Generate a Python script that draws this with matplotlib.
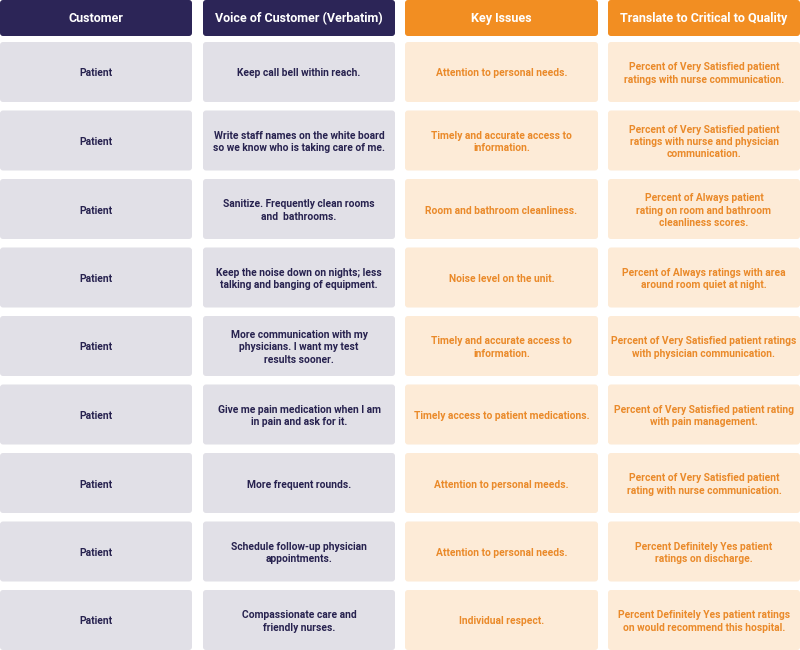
import matplotlib
matplotlib.use("Agg")
import matplotlib.pyplot as plt
from matplotlib.patches import FancyBboxPatch

headers = ["Customer", "Voice of Customer (Verbatim)", "Key Issues", "Translate to Critical to Quality"]
customers = ["Patient"] * 9
voices = [
    "Keep call bell within reach.",
    "Write staff names on the white board\nso we know who is taking care of me.",
    "Sanitize. Frequently clean rooms\nand  bathrooms.",
    "Keep the noise down on nights; less\ntalking and banging of equipment.",
    "More communication with my\nphysicians. I want my test\nresults sooner.",
    "Give me pain medication when I am\nin pain and ask for it.",
    "More frequent rounds.",
    "Schedule follow-up physician\nappointments.",
    "Compassionate care and\nfriendly nurses.",
]
key_issues = [
    "Attention to personal needs.",
    "Timely and accurate access to\ninformation.",
    "Room and bathroom cleanliness.",
    "Noise level on the unit.",
    "Timely and accurate access to\ninformation.",
    "Timely access to patient medications.",
    "Attention to personal meeds.",
    "Attention to personal needs.",
    "Individual respect.",
]
ctq = [
    "Percent of Very Satisfied patient\nratings with nurse communication.",
    "Percent of Very Satisfied patient\nratings with nurse and physician\ncommunication.",
    "Percent of Always patient\nrating on room and bathroom\ncleanliness scores.",
    "Percent of Always ratings with area\naround room quiet at night.",
    "Percent of Very Satisfied patient ratings\nwith physician communication.",
    "Percent of Very Satisfied patient rating\nwith pain management.",
    "Percent of Very Satisfied patient\nrating with nurse communication.",
    "Percent Definitely Yes patient\nratings on discharge.",
    "Percent Definitely Yes patient ratings\non would recommend this hospital.",
]

NAVY = "#2c2557"
ORANGE = "#f28e22"
GRAY = "#e1e0e7"
CREAM = "#fdebd7"
ORANGE_TXT = "#ea8a2a"
DARK_TXT = "#27224f"

fig = plt.figure(figsize=(8, 6.5), dpi=100)
ax = fig.add_axes([0, 0, 1, 1])
ax.set_xlim(0, 800)
ax.set_ylim(650, 0)
ax.axis("off")

col_x = [0, 203, 405, 608]
col_w = [192, 192, 193, 192]
head_fc = [NAVY, NAVY, ORANGE, ORANGE]
body_fc = [GRAY, GRAY, CREAM, CREAM]
body_tc = [DARK_TXT, DARK_TXT, ORANGE_TXT, ORANGE_TXT]
font = "Roboto"

def box(x, y, w, h, fc):
    r = 3
    p = FancyBboxPatch((x + r, y + r), w - 2 * r, h - 2 * r,
                       boxstyle=f"round,pad={r},rounding_size={r}",
                       fc=fc, ec="none", mutation_aspect=1)
    ax.add_patch(p)

# header
for j, h in enumerate(headers):
    box(col_x[j], 0, col_w[j], 36, head_fc[j])
    ax.text(col_x[j] + col_w[j] / 2, 18.5, h, ha="center", va="center",
            color="white", fontsize=9, fontweight="bold", family=font)

columns = [customers, voices, key_issues, ctq]
row_top0 = 42
pitch = 68.5
row_h = 60
for i in range(len(customers)):
    y = row_top0 + i * pitch
    for j, col in enumerate(columns):
        box(col_x[j], y, col_w[j], row_h, body_fc[j])
        ax.text(col_x[j] + col_w[j] / 2, y + row_h / 2 + 1.5, col[i], ha="center", va="center",
                color=body_tc[j], fontsize=7.4, fontweight="bold", family=font,
                linespacing=1.28)

fig.savefig("out.png", dpi=100, facecolor="white")
